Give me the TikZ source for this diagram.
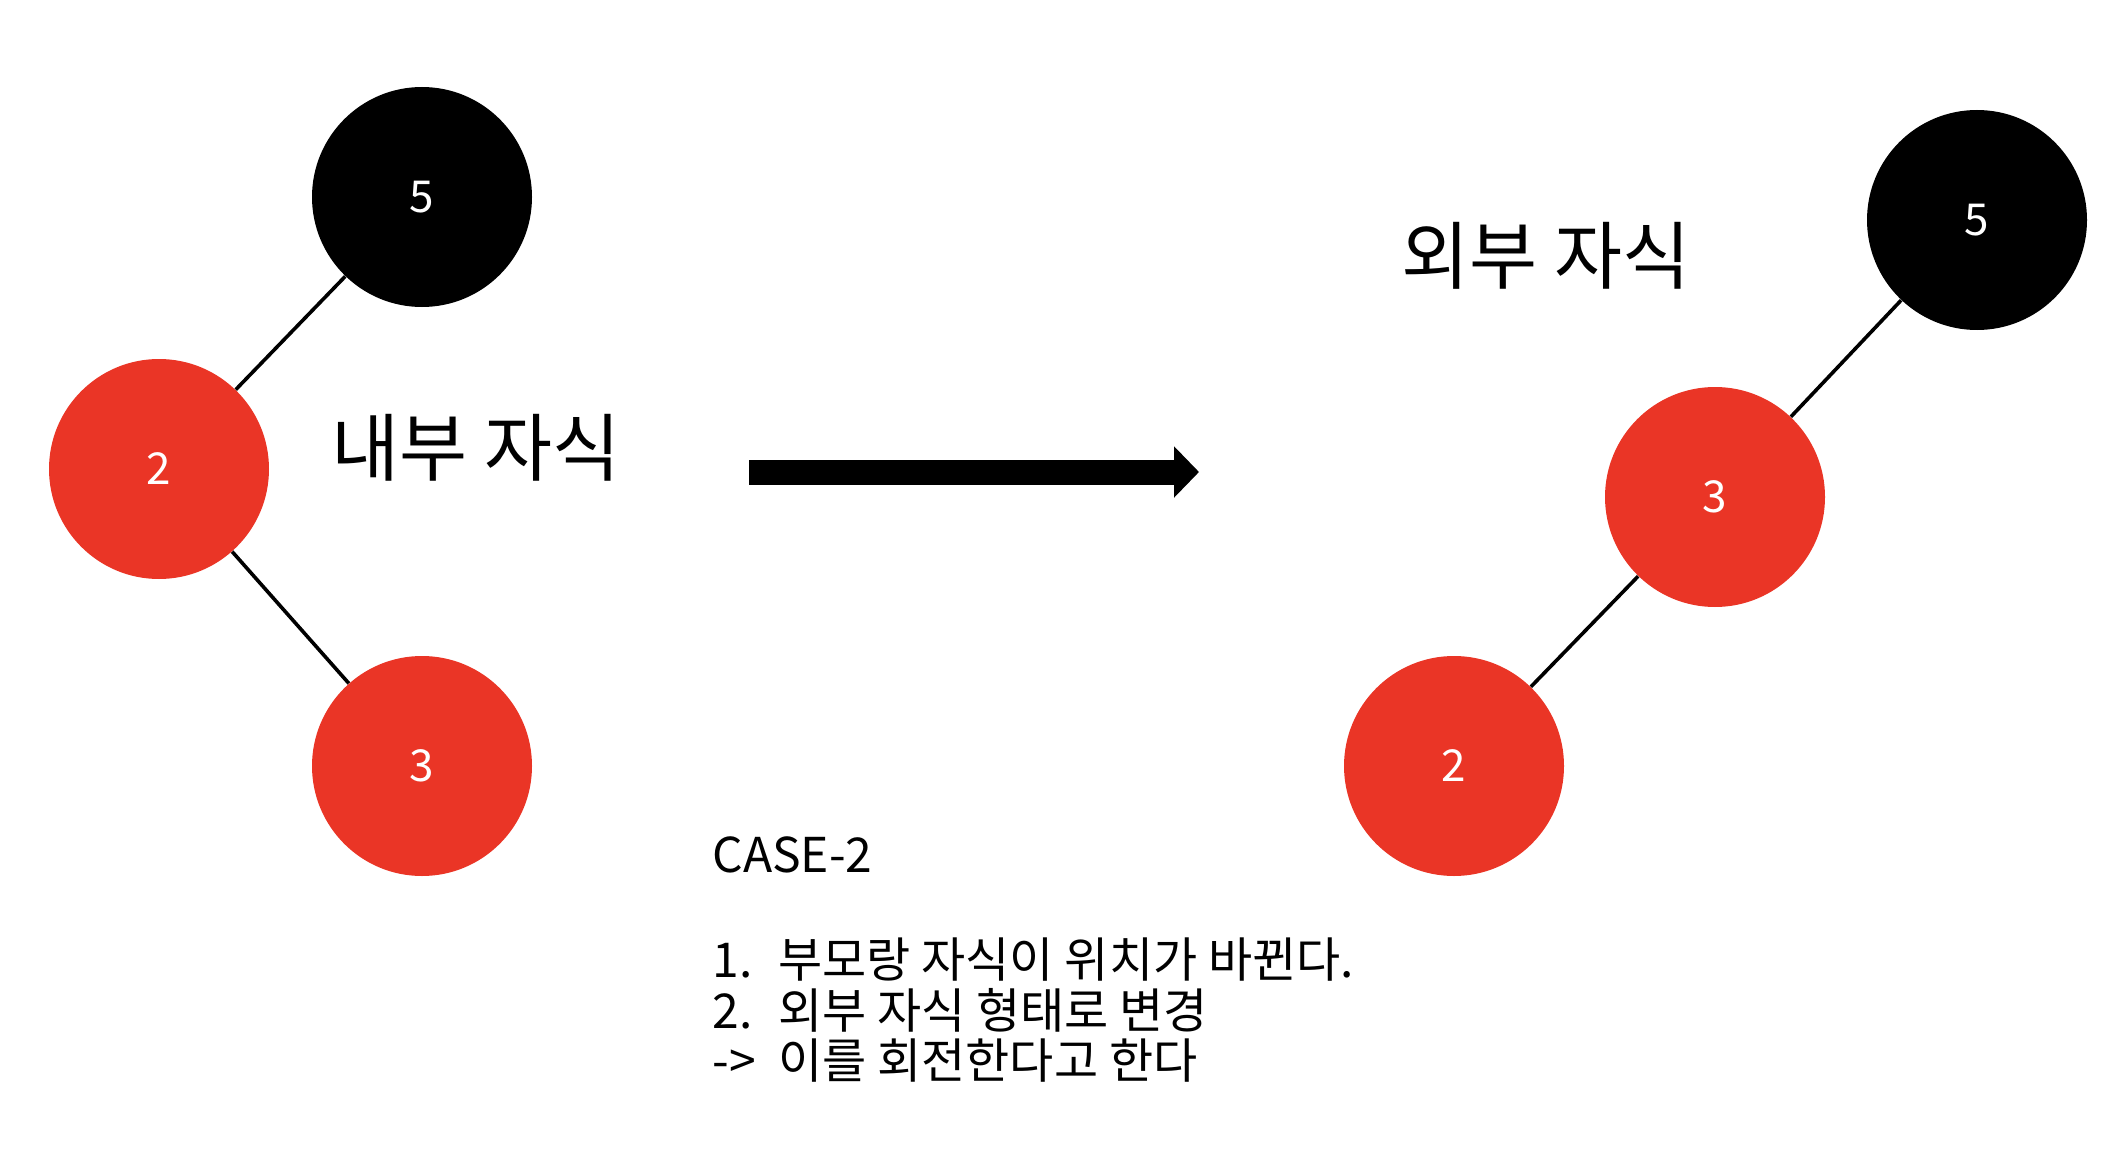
\documentclass[tikz,border=0pt]{standalone}
\usepackage{fontspec}
\setmainfont{Noto Sans CJK KR}
\usetikzlibrary{positioning, arrows.meta}
\definecolor{rbred}{RGB}{234,53,38}
\tikzset{
  blk/.style  = {circle, fill=black, text=white, minimum size=110pt, inner sep=0pt,
                 font=\fontsize{22}{26}\selectfont},
  rbn/.style  = {circle, fill=rbred, text=white, minimum size=110pt, inner sep=0pt,
                 font=\fontsize{22}{26}\selectfont},
  edg/.style  = {line width=1.8pt},
  bigar/.style= {line width=12.5pt, -{Triangle[length=12.5pt, width=25pt]}},
  ttl/.style  = {font=\fontsize{37}{44}\selectfont, inner sep=0pt},
  note/.style = {font=\fontsize{24}{29}\selectfont, inner sep=0pt, anchor=base west},
}

\begin{document}
\begin{tikzpicture}[x=0.5pt, y=-0.5pt]
  \useasboundingbox (0,0) rectangle (2114,1166);
  % ---- left: inner child ----
  \node[blk] (l5) at (422,197) {5};
  \node[rbn] (l2) at (159,469) {2};
  \node[rbn] (l3) at (422,766) {3};
  \draw[edg] (l5) -- (l2);
  \draw[edg] (l2) -- (l3);
  \node[ttl] (lttl) at (476,448) {내부 자식};

  % ---- rotation arrow ----
  \coordinate (arS) at (749,472);
  \coordinate (arE) at (1199,472);
  \draw[bigar] (arS) -- (arE);

  % ---- right: outer child ----
  \node[blk] (r5) at (1977,220) {5};
  \node[rbn] (r3) at (1715,497) {3};
  \node[rbn] (r2) at (1454,766) {2};
  \draw[edg] (r5) -- (r3);
  \draw[edg] (r3) -- (r2);
  \node[ttl] (rttl) at (1546,256) {외부 자식};

  % ---- notes ----
  \node[note] (cs) at (712,872) {CASE-2};
  \node[note] (st1) at (712,977) {\makebox[33pt][l]{1.}부모랑 자식이 위치가 바뀐다.};
  \node[note] (st2) at (712,1028) {\makebox[33pt][l]{2.}외부 자식 형태로 변경};
  \node[note] (st3) at (712,1078) {\makebox[33pt][l]{->}이를 회전한다고 한다};
\end{tikzpicture}
\end{document}
